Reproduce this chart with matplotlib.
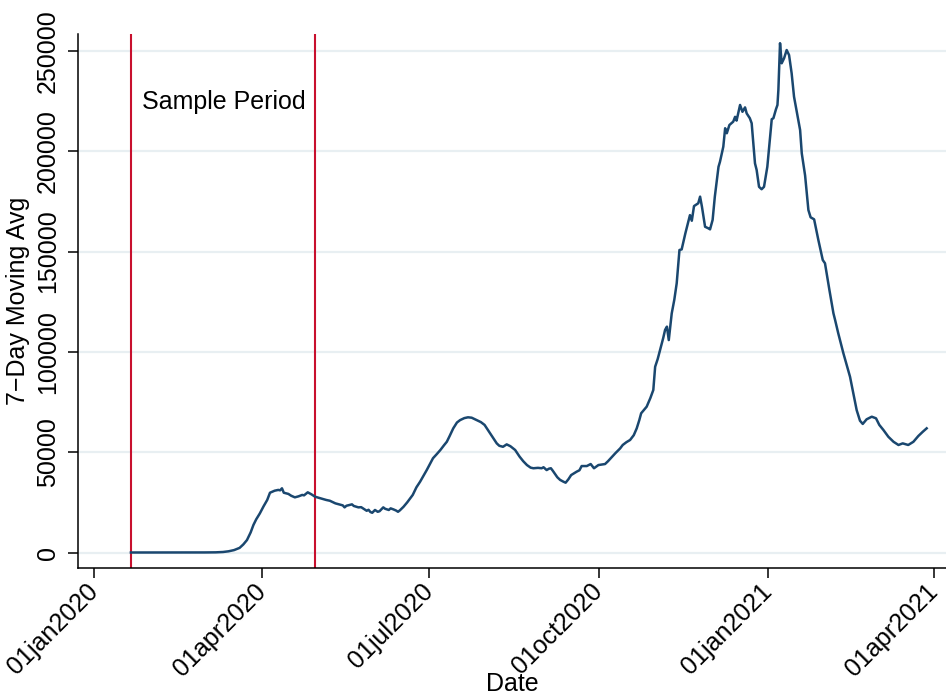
import numpy as np
import pandas as pd
import matplotlib
matplotlib.use("Agg")
import matplotlib.pyplot as plt
import matplotlib.dates as mdates

plt.rcParams['font.family'] = ['Liberation Sans', 'DejaVu Sans']

# days since 01jan2020
day_offset = [20, 30, 40, 50, 60, 66, 70, 73, 76, 79, 81, 83, 85, 86.5, 88, 90, 92, 94, 95.5,
              98, 100, 101, 102, 103, 105.5, 107, 109, 111, 113, 114, 116, 118, 120, 123, 126,
              128, 131, 133, 135, 136, 137, 140, 141, 143.5, 145, 148, 149, 150, 151, 152.5,
              154, 155, 157, 158, 160, 161, 162.5, 164, 165, 166, 168, 170, 173, 175, 177, 179,
              180.6, 182, 184, 186, 188, 190, 191.5, 193, 195, 197, 198.7, 201, 203, 205, 207.8,
              210, 212, 213.5, 215, 217, 218.6, 220, 222, 224, 226, 228.6, 231, 233, 235, 237,
              238.5, 241, 243, 244, 245.7, 247, 248, 249, 251.5, 253, 254.8, 256, 257.5, 259,
              262, 263.5, 264.7, 267.5, 269.6, 271.4, 273.8, 277.4, 279, 281, 283, 285.6, 287,
              289, 291, 293, 294.6, 296, 297, 300, 302, 303.6, 304.6, 306, 307.3, 309, 310, 311,
              312, 313.6, 315, 316.3, 317.8, 319, 321, 322.6, 323.5, 324.5, 325.7, 328, 329, 330,
              331.7, 333.5, 334.4, 335.8, 337, 339, 339.8, 341.6, 342.6, 343.5, 344.9, 347, 348,
              348.8, 350.7, 352, 353.4, 354.3, 356, 357, 358.8, 359.7, 361, 362.4, 363.7, 365.5,
              367, 367.9, 368.8, 370.2, 371, 371.5, 372.4, 373.3, 374.6, 376, 377.3, 378.7, 380,
              381, 383.3, 384.2, 386, 387.8, 389, 390.9, 393.2, 395.6, 396.8, 399.2, 401.4, 402.3,
              404, 406.8, 408.6, 410.4, 412.2, 414, 415.8, 417.3, 419.4, 422.2, 424.5, 426.3,
              428.5, 431.2, 434, 436.7, 439, 442, 444.8, 447.5, 449.9, 452]

cases_ma7 = [0, 0, 0, 5, 30, 80, 250, 600, 1200, 2300, 4000, 6200, 10000, 13700, 16500, 19500,
             23000, 26200, 29800, 30800, 31200, 31000, 32000, 29800, 29200, 28300, 27500, 28000,
             28700, 28500, 30000, 29000, 27800, 27000, 26200, 25800, 24500, 24000, 23500, 22500,
             23300, 24000, 23200, 22500, 22600, 20800, 21300, 20200, 19800, 21200, 20300, 20600,
             22500, 21800, 21200, 22000, 21500, 20900, 20300, 21000, 22800, 25000, 28700, 32500,
             35300, 38500, 41100, 43500, 47000, 49000, 51100, 53500, 55200, 58000, 61900, 64800,
             66000, 67000, 67400, 67200, 66000, 65000, 63600, 61500, 59400, 56500, 54400, 53200,
             52700, 53900, 53000, 51100, 47800, 45500, 43600, 42300, 42000, 42200, 42000, 42500,
             41100, 41800, 42000, 40800, 37500, 36200, 35300, 34800, 36500, 38600, 40300, 41000,
             43100, 43100, 44100, 42000, 43600, 44100, 45500, 47500, 49500, 51900, 53600, 55000,
             56100, 58500, 61900, 66000, 69400, 72700, 77000, 81000, 92600, 96500, 101000,
             107000, 111000, 112600, 105900, 119200, 126000, 134200, 150800, 151100, 159100,
             164900, 168200, 165400, 172700, 174100, 177400, 172400, 162400, 161600, 161100,
             165800, 177400, 192300, 194800, 202300, 211500, 209000, 213100, 214800, 217200,
             215300, 223100, 219700, 221900, 218900, 216500, 214000, 194000, 190700, 182300,
             181100, 182300, 192300, 207300, 216000, 216500, 221000, 223100, 230600, 253900,
             243900, 246400, 250500, 248000, 238900, 227200, 222200, 210600, 199000, 188000,
             170700, 167100, 166100, 155800, 145800, 144200, 130900, 119200, 115900, 109300,
             99300, 93500, 87600, 79400, 71000, 65700, 64100, 66400, 67700, 66900, 63600, 61100,
             57700, 55200, 53600, 54400, 53600, 55200, 58100, 60200, 61900]

sample_start = '2020-01-21'
sample_end = '2020-04-30'
tick_dates = ['2020-01-01', '2020-04-01', '2020-07-01', '2020-10-01', '2021-01-01', '2021-04-01']
ytick_vals = [0, 50000, 100000, 150000, 200000, 250000]

start = pd.Timestamp('2020-01-01')
dates = start + pd.to_timedelta(np.array(day_offset), unit='D')

navy = '#1a476f'
red = '#c8102e'
grid = '#e8eff2'

fig = plt.figure(figsize=(9.46, 6.99), dpi=100)
ax = fig.add_axes([0.0825, 0.1874, 0.9175, 0.764])

for v in ytick_vals:
    ax.axhline(v, color=grid, lw=1.6, zorder=0)

ax.plot(dates, cases_ma7, color=navy, lw=1.8, zorder=3)
ax.axvline(pd.Timestamp(sample_start), color=red, lw=1.5, zorder=2)
ax.axvline(pd.Timestamp(sample_end), color=red, lw=1.5, zorder=2)
ax.text(start + pd.Timedelta(days=26), 224600, 'Sample Period', fontsize=18,
        ha='left', va='center')

ax.set_xlim(start - pd.Timedelta(days=8.7), start + pd.Timedelta(days=462.5))
ax.set_ylim(-7730, 258500)

ticks = pd.to_datetime(tick_dates)
ax.set_xticks(ticks)
ax.set_xticklabels([t.strftime('%d%b%Y').lower() for t in ticks], rotation=45,
                   ha='right', va='center', rotation_mode='anchor', fontsize=18)
ax.set_yticks(ytick_vals)
ax.set_yticklabels([str(v) for v in ytick_vals], rotation=90, va='center', fontsize=18)

ax.tick_params(axis='both', direction='out', length=7, width=1.1, color='black')
ax.tick_params(axis='x', pad=7)
ax.tick_params(axis='y', pad=6)

for s in ['top', 'right']:
    ax.spines[s].set_visible(False)
for s in ['left', 'bottom']:
    ax.spines[s].set_linewidth(1.1)

ax.set_xlabel('Date', fontsize=18, labelpad=-6)
ax.set_ylabel('7\u2212Day Moving Avg', fontsize=18, labelpad=4)

fig.savefig('out.png', dpi=100)
